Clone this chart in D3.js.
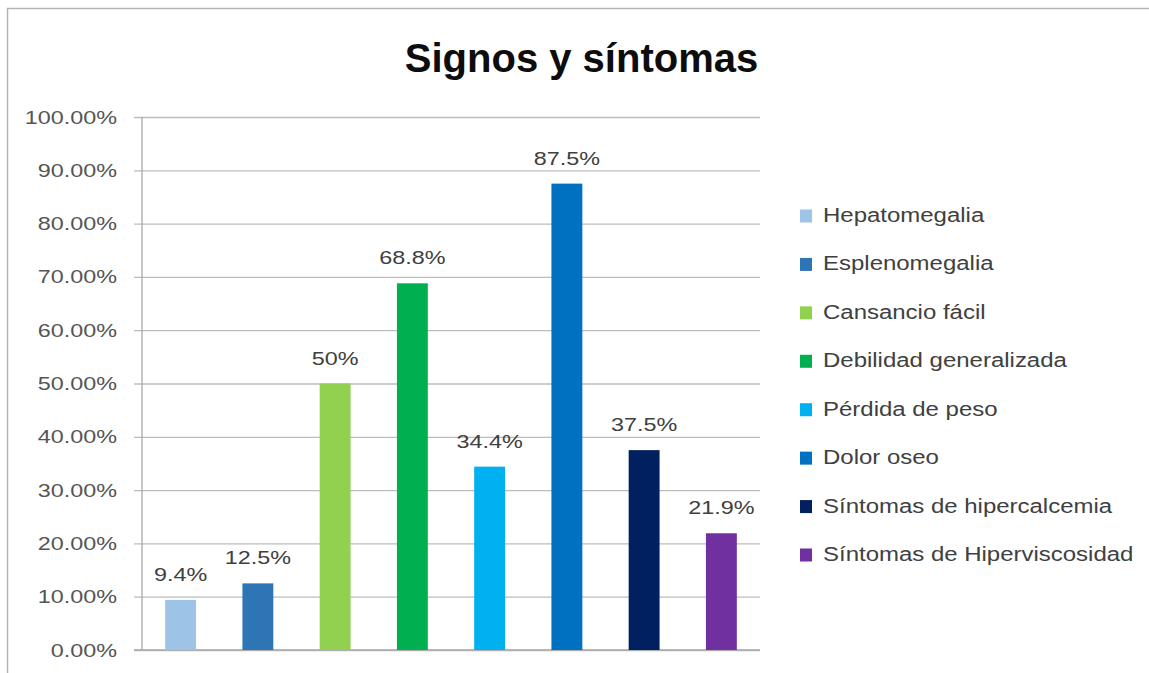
<!DOCTYPE html>
<html>
<head>
<meta charset="utf-8">
<script src="https://cdn.jsdelivr.net/npm/d3@7"></script>
<style>
  html, body { margin: 0; padding: 0; background: #fff; }
  svg { display: block; }
  text { font-family: "Liberation Sans", Arial, sans-serif; }
</style>
</head>
<body>
<svg id="chart" width="1149" height="673"></svg>
<script>
// Signos y síntomas — porcentaje de pacientes por hallazgo clínico
const categories = [
  "Hepatomegalia",
  "Esplenomegalia",
  "Cansancio fácil",
  "Debilidad generalizada",
  "Pérdida de peso",
  "Dolor oseo",
  "Síntomas de hipercalcemia",
  "Síntomas de Hiperviscosidad"
];
const values = [9.4, 12.5, 50, 68.8, 34.4, 87.5, 37.5, 21.9];
const valueLabels = ["9.4%", "12.5%", "50%", "68.8%", "34.4%", "87.5%", "37.5%", "21.9%"];
const colors = ["#9DC3E6", "#2E75B6", "#92D050", "#00B050", "#00B0F0", "#0070C0", "#002060", "#7030A0"];
const yTicks = [0, 10, 20, 30, 40, 50, 60, 70, 80, 90, 100];
const title = "Signos y síntomas";

const svg = d3.select("#chart");
const plot = { left: 142, right: 760, top: 117, bottom: 650 };
const tickStart = 134;     // gridlines poke out left of the axis as tick stubs
const textScaleX = 1.23;   // widened glyphs for axis, label and legend text

// chart frame
svg.append("rect")
  .attr("x", 7.5).attr("y", 8.5)
  .attr("width", 1200).attr("height", 700)
  .attr("fill", "#fff")
  .attr("stroke", "#b4b4b4").attr("stroke-width", 1.5);

const x = d3.scaleBand()
  .domain(categories)
  .range([plot.left, plot.right])
  .paddingInner(0.6)
  .paddingOuter(0.3);

const y = d3.scaleLinear()
  .domain([0, 100])
  .range([plot.bottom, plot.top]);

// horizontal gridlines
const grid = svg.append("g")
  .attr("transform", `translate(${plot.right},0)`)
  .call(d3.axisLeft(y).tickValues(yTicks).tickSize(plot.right - tickStart).tickFormat(""));
grid.select(".domain").remove();
grid.selectAll(".tick line")
  .attr("stroke", "#bcbcbc")
  .attr("stroke-width", 1.3);

// y axis labels
svg.append("g").selectAll("text")
  .data(yTicks)
  .join("text")
  .attr("transform", t => `translate(117,${y(t) + 6.5}) scale(${textScaleX},1)`)
  .attr("text-anchor", "end")
  .attr("font-size", 19)
  .attr("fill", "#555")
  .text(t => d3.format(".2f")(t) + "%");

// vertical axis line
svg.append("line")
  .attr("x1", plot.left).attr("x2", plot.left)
  .attr("y1", y(100)).attr("y2", y(0))
  .attr("stroke", "#a8a8a8").attr("stroke-width", 1.3);

// baseline
svg.append("line")
  .attr("x1", tickStart).attr("x2", plot.right)
  .attr("y1", y(0)).attr("y2", y(0))
  .attr("stroke", "#a8a8a8").attr("stroke-width", 1.5);

// bars
svg.append("g").selectAll("rect")
  .data(categories)
  .join("rect")
  .attr("x", d => x(d))
  .attr("width", x.bandwidth())
  .attr("y", (d, i) => y(values[i]))
  .attr("height", (d, i) => y(0) - y(values[i]))
  .attr("fill", (d, i) => colors[i]);

// value labels
svg.append("g").selectAll("text")
  .data(categories)
  .join("text")
  .attr("transform", (d, i) =>
    `translate(${x(d) + x.bandwidth() / 2},${y(values[i]) - 19}) scale(${textScaleX},1)`)
  .attr("text-anchor", "middle")
  .attr("font-size", 19)
  .attr("fill", "#404040")
  .text((d, i) => valueLabels[i]);

// title
svg.append("text")
  .attr("x", 581.5).attr("y", 72)
  .attr("text-anchor", "middle")
  .attr("font-size", 40)
  .attr("font-weight", "bold")
  .attr("fill", "#0d0d0d")
  .text(title);

// legend
const legendY = d3.scalePoint()
  .domain(categories)
  .range([216, 555]);
const item = svg.append("g").selectAll("g")
  .data(categories)
  .join("g")
  .attr("transform", d => `translate(800,${legendY(d)})`);
item.append("rect")
  .attr("x", 0).attr("y", -6.5)
  .attr("width", 12).attr("height", 13)
  .attr("fill", (d, i) => colors[i]);
item.append("text")
  .attr("transform", `translate(23,6) scale(${textScaleX},1)`)
  .attr("font-size", 19.5)
  .attr("fill", "#404040")
  .text(d => d);
</script>
</body>
</html>
